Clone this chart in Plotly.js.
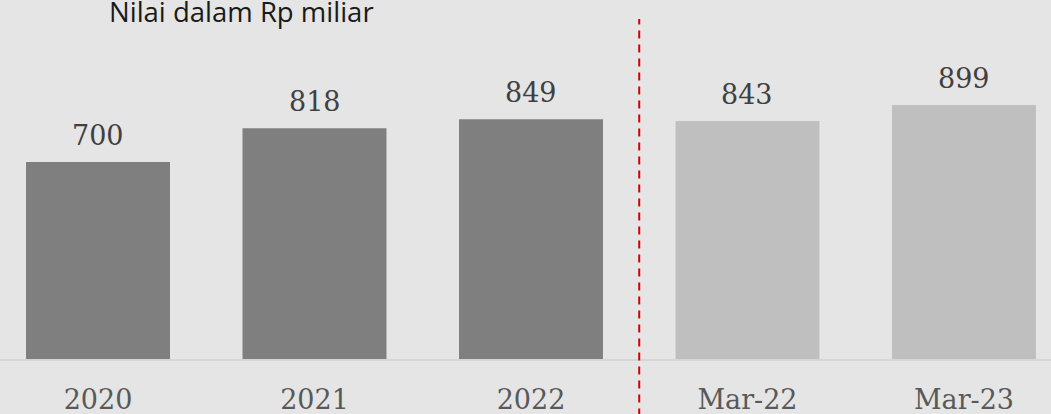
<!DOCTYPE html>
<html>
<head>
<meta charset="utf-8">
<script src="https://cdn.plot.ly/plotly-3.0.1.min.js"></script>
<style>
html, body { margin: 0; padding: 0; background: #e5e5e5; }
#chart { width: 1051px; height: 414px; }
</style>
</head>
<body>
<div id="chart"></div>
<script>
// Data
const categories = ['2020', '2021', '2022', 'Mar-22', 'Mar-23'];
const values = [700, 818, 849, 843, 899];
const periodType = ['annual', 'annual', 'annual', 'quarter', 'quarter'];
const chartTitle = 'Nilai dalam Rp miliar';

// Styles
const colorByType = { annual: '#7f7f7f', quarter: '#bfbfbf' };
const serif = '"DejaVu Serif", serif';

const trace = {
  type: 'bar',
  x: categories,
  y: values,
  marker: { color: periodType.map(t => colorByType[t]), line: { width: 0 } },
  hoverinfo: 'skip'
};

const annotations = categories.map((c, i) => ({
  x: i, y: values[i], xref: 'x', yref: 'y',
  text: String(values[i]), showarrow: false,
  yanchor: 'bottom', yshift: 9,
  font: { family: serif, size: 27, color: '#404040' }
}));
annotations.push({
  x: 107 / 1051, y: 1, xref: 'paper', yref: 'paper',
  xanchor: 'left', yanchor: 'middle', yshift: -11,
  text: chartTitle, showarrow: false,
  font: { family: '"Open Sans", sans-serif', size: 27.5, color: '#1a1a1a' }
});

const layout = {
  width: 1051, height: 414,
  margin: { l: 0, r: 0, t: 0, b: 55 },
  paper_bgcolor: '#e5e5e5',
  plot_bgcolor: '#e5e5e5',
  bargap: 0.335,
  showlegend: false,
  xaxis: {
    type: 'category',
    range: [-0.4527, 4.402],
    showgrid: false, zeroline: false,
    showline: true, linecolor: '#d6d6d6', linewidth: 2,
    ticks: '', ticklabelstandoff: 16,
    tickfont: { family: serif, size: 27, color: '#595959' },
    fixedrange: true
  },
  yaxis: {
    range: [12.2, 1265.7],
    visible: false, showgrid: false, zeroline: false,
    fixedrange: true
  },
  shapes: [{
    type: 'line', xref: 'x', yref: 'paper',
    x0: 2.5, x1: 2.5, y0: -0.16, y1: 0.947,
    line: { color: '#d40000', width: 2, dash: '8px,6px' }
  }],
  annotations: annotations
};

Plotly.newPlot('chart', [trace], layout, { displayModeBar: false, staticPlot: true });
</script>
</body>
</html>
